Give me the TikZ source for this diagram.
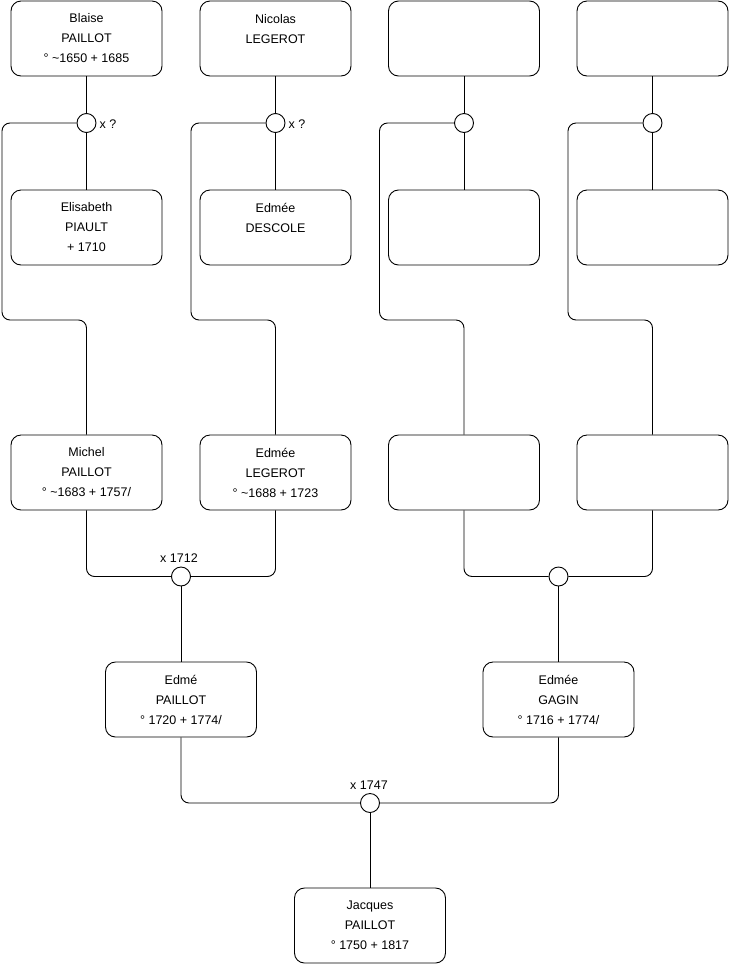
\documentclass[tikz,border=0pt]{standalone}
\usepackage{fontspec}
\setmainfont{Liberation Sans}
\usetikzlibrary{positioning}

\begin{document}
\begin{tikzpicture}[x=1pt, y=-1pt,
person/.style={rectangle, draw, rounded corners=10pt, line width=0.9pt, minimum width=151pt, minimum height=75pt, inner sep=0pt, align=center, font=\fontsize{12.5}{20}\selectfont},
union/.style={circle, draw, line width=0.9pt, fill=white, minimum size=19pt, inner sep=0pt},
note/.style={font=\fontsize{12.5}{15}\selectfont, inner sep=0pt},
link/.style={line width=0.9pt, rounded corners=8pt}
]
\useasboundingbox (0,0) rectangle (740,975);
% top row
\node[person] (blaise) at (86.5,38.5) {Blaise\\PAILLOT\\° \textasciitilde1650 + 1685};
\node[person] (nicolas) at (275.5,38.5) {Nicolas\\LEGEROT\\\mbox{}};
\node[person] (topc) at (464,38.5) {};
\node[person] (topd) at (652.5,38.5) {};
\node[union] (ub) at (86.5,123) {};
\node[union] (un) at (275.5,123) {};
\node[union] (uc) at (464,123) {};
\node[union] (ud) at (652.5,123) {};
\node[note] (qb) at (108,124) {x ?};
\node[note] (qn) at (297,124) {x ?};
% second row
\node[person] (elisabeth) at (86.5,227.5) {Elisabeth\\PIAULT\\ + 1710};
\node[person] (descole) at (275.5,227.5) {Edmée\\DESCOLE\\\mbox{}};
\node[person] (midc) at (464,227.5) {};
\node[person] (midd) at (652.5,227.5) {};
% third row
\node[person] (michel) at (86.5,472.5) {Michel\\PAILLOT\\° \textasciitilde1683 + 1757/};
\node[person] (edmeel) at (275.5,472.5) {Edmée\\LEGEROT\\° \textasciitilde1688 + 1723};
\node[person] (lowc) at (464,472.5) {};
\node[person] (lowd) at (652.5,472.5) {};
\node[union] (u1712) at (181,576.5) {};
\node[union] (uright) at (558.5,576.5) {};
\node[note] (m1712) at (179,558) {x 1712};
% fourth row
\node[person] (edme) at (181,699.5) {Edmé\\PAILLOT\\° 1720 + 1774/};
\node[person] (gagin) at (558.5,699.5) {Edmée\\GAGIN\\° 1716 + 1774/};
\node[union] (u1747) at (370,803) {};
\node[note] (m1747) at (369,785) {x 1747};
\node[person] (jacques) at (370,925.5) {Jacques\\PAILLOT\\° 1750 + 1817};
% bends of the child lines
\coordinate (kb) at (2,320);
\coordinate (kn) at (191,320);
\coordinate (kc) at (379.5,320);
\coordinate (kd) at (568,320);
% links
\draw[link] (blaise) -- (ub);
\draw[link] (ub) -- (elisabeth);
\draw[link] (nicolas) -- (un);
\draw[link] (un) -- (descole);
\draw[link] (topc) -- (uc);
\draw[link] (uc) -- (midc);
\draw[link] (topd) -- (ud);
\draw[link] (ud) -- (midd);
\draw[link] (ub) -| (kb) -| (michel);
\draw[link] (un) -| (kn) -| (edmeel);
\draw[link] (uc) -| (kc) -| (lowc);
\draw[link] (ud) -| (kd) -| (lowd);
\draw[link] (michel) |- (u1712);
\draw[link] (edmeel) |- (u1712);
\draw[link] (u1712) -- (edme);
\draw[link] (lowc) |- (uright);
\draw[link] (lowd) |- (uright);
\draw[link] (uright) -- (gagin);
\draw[link] (edme) |- (u1747);
\draw[link] (gagin) |- (u1747);
\draw[link] (u1747) -- (jacques);
\end{tikzpicture}
\end{document}
